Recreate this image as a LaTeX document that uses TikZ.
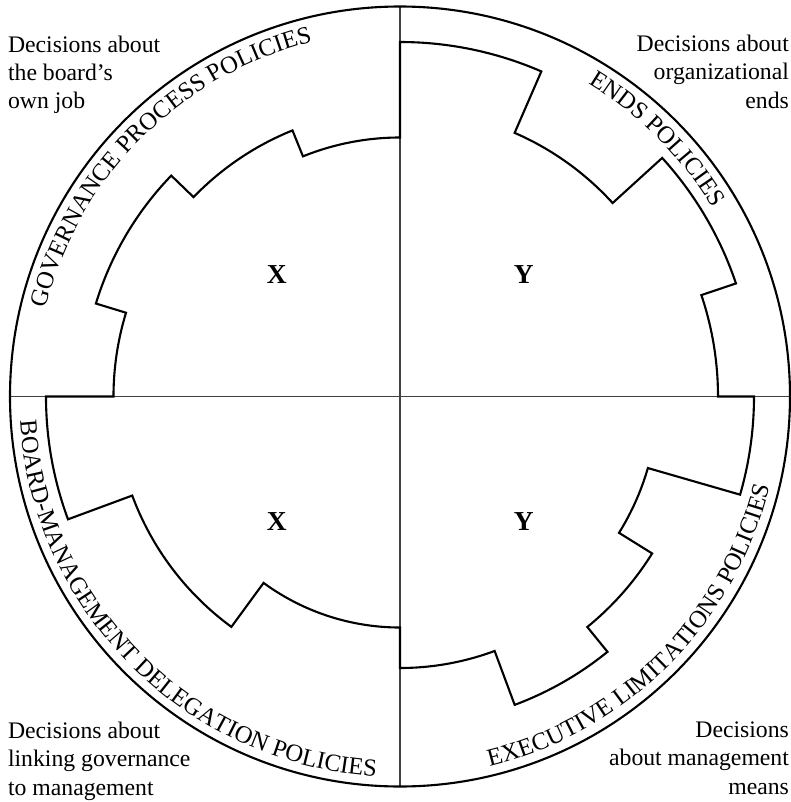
\documentclass[tikz,border=0pt]{standalone}
\usepackage{fontspec}
\setmainfont{Liberation Serif}
\usetikzlibrary{decorations.text}

\begin{document}
\begin{tikzpicture}[line width=0.6pt,node distance=2.47cm,
      axis/.style={line width=0.4pt,black!75},
      note/.style={inner sep=0pt,font=\fontsize{6.75}{8.1}\selectfont},
      letter/.style={inner sep=0pt,font=\fontsize{7.8}{9}\selectfont\bfseries},
      band/.style={decorate,decoration={text along path,text align=center,
        text={|\fontsize{7}{8}\selectfont|#1}}}]

    \useasboundingbox (-4.00,-4.055) rectangle (3.91,3.965);

    \coordinate (n) at (90:3.9);
    \coordinate (s) at (270:3.9);
    \coordinate (w) at (180:3.9);
    \coordinate (e) at (3.91,0);

    \draw[axis] (n) -- (s);
    \draw[axis] (w) -- (e);
    \draw (0,0) circle (3.9);

    \draw (90:2.59) arc (90:112:2.59) -- (112:2.87) arc (112:136:2.87)
      -- (136:3.18) arc (136:163:3.18) -- (163:2.865) arc (163:180:2.865)
      -- (180:3.54) arc (180:200.3:3.54) -- (200.3:2.855) arc (200.3:233.8:2.855)
      -- (233.8:2.31) arc (233.8:270:2.31)
      -- (270:2.715) arc (270:290.4:2.715) -- (290.4:3.29) arc (290.4:309.1:3.29)
      -- (309.1:2.97) arc (309.1:328.1:2.97) -- (328.1:2.58) arc (328.1:343.9:2.58)
      -- (343.9:3.54) arc (343.9:360:3.54)
      -- (0:3.18) arc (0:18.6:3.18) -- (18.6:3.545) arc (18.6:42.3:3.545)
      -- (42.3:2.875) arc (42.3:66.5:2.875) -- (66.5:3.545) arc (66.5:90:3.545)
      -- cycle;

    \path[band={GOVERNANCE PROCESS POLICIES}] (180:3.65) arc (180:90:3.65);
    \path[band={ENDS POLICIES}] (90:3.65) arc (90:0:3.65);
    \path[band={BOARD-MANAGEMENT DELEGATION POLICIES}] (180:3.805) arc (180:270:3.805);
    \path[band={EXECUTIVE LIMITATIONS POLICIES}] (270:3.805) arc (270:360:3.805);

    \node[letter] (gp) at (-1.233,1.215) {X};
    \node[letter] (ends) [right of=gp] {Y};
    \node[letter] (bmd) [below of=gp] {X};
    \node[letter] (el) [below of=ends] {Y};

    \node[note,anchor=north west,align=left] (gpnote) at (-3.93,3.62)
      {Decisions about\\the board’s\\own job};
    \node[note,anchor=north east,align=right] (endsnote) at (3.90,3.625)
      {Decisions about\\organizational\\ends};
    \node[note,anchor=north west,align=left] (bmdnote) at (-3.93,-3.243)
      {Decisions about\\linking governance\\to management};
    \node[note,anchor=north east,align=right] (elnote) at (3.90,-3.24)
      {Decisions\\about management\\means};
  \end{tikzpicture}
\end{document}
